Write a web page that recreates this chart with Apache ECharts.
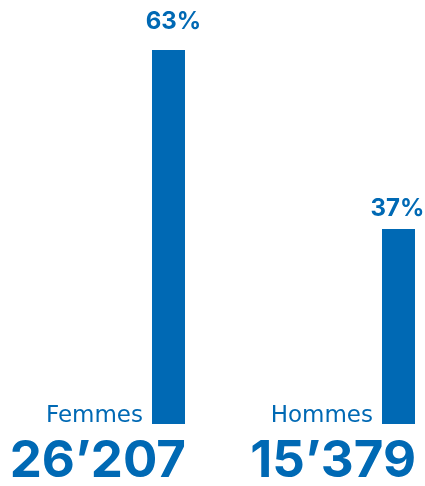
<!DOCTYPE html>
<html><head><meta charset="utf-8">
<script src="https://cdn.jsdelivr.net/npm/echarts@6/dist/echarts.min.js"></script>
<style>html,body{margin:0;padding:0;background:#fff}#c{width:425px;height:486px}</style>
</head><body><div id="c"></div>
<script>
const categories = ['Femmes', 'Hommes'];
const percentValues = [63, 37];
const percentLabels = ['63%', '37%'];
const countLabels = ['26’207', '15’379'];

const BLUE = '#0069b4';
const chart = echarts.init(document.getElementById('c'), null, {renderer: 'canvas'});

const pctOffsets = [[5, 0], [-1, 0]];
const pctDistances = [16, 8];

chart.setOption({
  animation: false,
  backgroundColor: '#fff',
  grid: {left: 53.5, right: -88.5, top: 50, bottom: 62, containLabel: false, outerBoundsMode: 'none'},
  xAxis: {
    type: 'category', data: categories,
    axisLine: {show: false}, axisTick: {show: false}, axisLabel: {show: false}, splitLine: {show: false}
  },
  yAxis: {
    type: 'value', min: 8.7, max: 63,
    show: false
  },
  series: [
    {
      type: 'bar', barWidth: 33, z: 3,
      itemStyle: {color: BLUE},
      data: percentValues.map((v, i) => ({
        value: v,
        label: {distance: pctDistances[i], offset: pctOffsets[i]}
      })),
      label: {
        show: true, position: 'top',
        formatter: p => percentLabels[p.dataIndex],
        color: BLUE, fontFamily: 'Inter', fontWeight: 'bold', fontSize: 24
      }
    },
    {
      type: 'bar', barWidth: 33, barGap: '-100%', z: 2, silent: true,
      itemStyle: {color: 'rgba(0,0,0,0)'},
      data: percentValues,
      label: {
        show: true, position: ['0%', '100%'], align: 'right', verticalAlign: 'bottom',
        offset: [-9, 4],
        formatter: p => categories[p.dataIndex],
        color: BLUE, fontFamily: 'DejaVu Sans', fontWeight: 'normal', fontSize: 23
      }
    },
    {
      type: 'bar', barWidth: 33, barGap: '-100%', z: 1, silent: true,
      itemStyle: {color: 'rgba(0,0,0,0)'},
      data: percentValues,
      label: {
        show: true, position: ['100%', '100%'], align: 'right', verticalAlign: 'top',
        offset: [1, 12],
        formatter: p => countLabels[p.dataIndex],
        color: BLUE, fontFamily: 'Inter', fontWeight: 'bold', fontSize: 51
      }
    }
  ]
});
</script></body></html>
